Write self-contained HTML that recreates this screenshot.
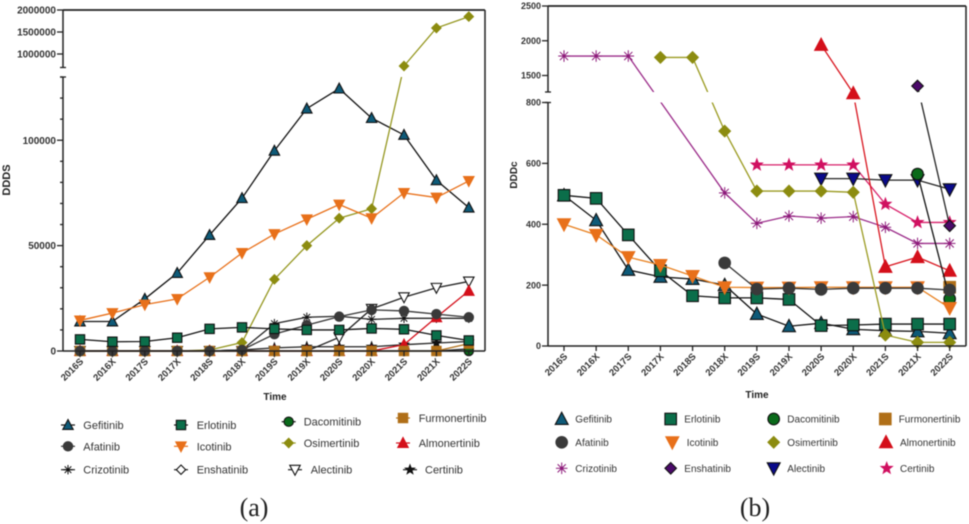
<!DOCTYPE html>
<html lang="en">
<head>
<meta charset="utf-8">
<title>DDDS and DDDc by drug</title>
<style>
html,body{margin:0;padding:0;background:#fff;width:969px;height:524px;overflow:hidden}
svg{display:block;position:absolute;left:0;top:0;filter:blur(0.45px)}
text{font-family:"Liberation Sans",sans-serif;fill:#333}
.lga{font-size:11px}
.lgb{font-size:10px}
.cap{font-family:"Liberation Serif",serif;font-size:26px;fill:#222;text-anchor:middle}
.ttl{font-weight:bold;fill:#222;text-anchor:middle}
</style>
</head>
<body>
<svg id="figure" width="969" height="524" viewBox="0 0 969 524" xmlns="http://www.w3.org/2000/svg">
  <defs>
    <clipPath id="clip-a"><rect x="0" y="0" width="969" height="67.5"/><rect x="0" y="77" width="969" height="447"/></clipPath>
    <clipPath id="clip-b"><rect x="0" y="0" width="969" height="92"/><rect x="0" y="102.5" width="969" height="421.5"/></clipPath>
  </defs>
  <g id="panel-a"></g>
  <g id="panel-b"></g>
  <g id="legend-marks"></g>

  <text class="ttl" font-size="11" transform="rotate(-90 10 180)" x="10" y="180">DDDS</text>
  <text class="ttl" font-size="10" x="275" y="400">Time</text>
  <text class="ttl" font-size="10" transform="rotate(-90 517 175)" x="517" y="175">DDDc</text>
  <text class="ttl" font-size="10" x="757" y="398">Time</text>

  <g>
    <text class="lga" x="83.3" y="429">Gefitinib</text>
    <text class="lga" x="196.7" y="429">Erlotinib</text>
    <text class="lga" x="303.7" y="425.7">Dacomitinib</text>
    <text class="lga" x="418.7" y="422">Furmonertinib</text>
    <text class="lga" x="83.3" y="450.3">Afatinib</text>
    <text class="lga" x="196.7" y="450.3">Icotinib</text>
    <text class="lga" x="303.7" y="447">Osimertinib</text>
    <text class="lga" x="418.7" y="447">Almonertinib</text>
    <text class="lga" x="83.3" y="473.7">Crizotinib</text>
    <text class="lga" x="196.7" y="473.7">Enshatinib</text>
    <text class="lga" x="310.7" y="473.7">Alectinib</text>
    <text class="lga" x="425" y="473.7">Certinib</text>
  </g>
  <g>
    <text class="lgb" x="575.3" y="422.6">Gefitinib</text>
    <text class="lgb" x="684.3" y="422.6">Erlotinib</text>
    <text class="lgb" x="787.3" y="422.6">Dacomitinib</text>
    <text class="lgb" x="898.7" y="422.6">Furmonertinib</text>
    <text class="lgb" x="575.3" y="445.9">Afatinib</text>
    <text class="lgb" x="686.7" y="445.9">Icotinib</text>
    <text class="lgb" x="787.3" y="445.9">Osimertinib</text>
    <text class="lgb" x="900" y="445.9">Almonertinib</text>
    <text class="lgb" x="575.3" y="471.9">Crizotinib</text>
    <text class="lgb" x="684.3" y="471.9">Enshatinib</text>
    <text class="lgb" x="787.3" y="471.9">Alectinib</text>
    <text class="lgb" x="900" y="471.9">Certinib</text>
  </g>

  <text class="cap" x="254" y="516">(a)</text>
  <text class="cap" x="755" y="516">(b)</text>
</svg>

<script>
// ---- shared categories ----
const timeCategories = ['2016S','2016X','2017S','2017X','2018S','2018X','2019S','2019X','2020S','2020X','2021S','2021X','2022S'];

// ---- panel (a) DDDS values ----
const aGefitinib     = [14000,14000,24700,37000,55000,72500,95000,115000,124500,110500,102500,81000,68000];
const aErlotinib     = [5500,4400,4500,6300,10500,11200,10500,10000,10000,10700,10300,7400,5000];
const aDacomitinib   = [0,0,0,0,0,0,0,0,0,0,0,0,0];
const aFurmonertinib = [0,0,0,0,0,0,0,0,0,0,0,0,3500];
const aAfatinib      = [0,0,0,0,0,500,8000,12300,16300,19500,19000,17500,16000];
const aIcotinib      = [14500,18000,22000,24700,35000,46500,55500,62500,69500,63000,75000,72800,80700];
const aOsimertinib   = [0,0,0,0,500,4000,34000,50000,63000,67500,727000,1590000,1850000];
const aAlmonertinib  = [0,0,0,0,0,0,0,0,0,0,3000,16000,28500];
const aCrizotinib    = [0,0,0,0,0,500,13000,16000,16500,15000,15500,15500,15500];
const aEnshatinib    = [0,0,0,0,0,0,0,0,0,0,0,0,1000];
const aAlectinib     = [0,0,0,0,0,0,0,0,6500,20000,25500,30000,33000];
const aCertinib      = [0,0,0,0,0,500,1500,2000,2000,2000,3000,3800,4500];

// ---- panel (a) ticks ----
const aMajorTicks = [0,50000,100000,1000000,1500000,2000000];
const aMinorTicks = [10000,20000,30000,40000,60000,70000,80000,90000,110000,120000,130000];

// ---- panel (b) DDDc values ----
const bGefitinib     = [495,413,250,227,220,200,105,65,75,55,50,48,42];
const bErlotinib     = [495,485,365,247,165,158,158,153,67,69,72,72,72];
const bDacomitinib   = [null,null,null,null,null,null,null,null,null,null,null,565,155];
const bFurmonertinib = [null,null,null,null,null,null,null,null,null,null,null,null,193];
const bAfatinib      = [null,null,null,null,null,273,187,190,186,190,190,190,184];
const bIcotinib      = [400,365,292,266,230,193,192,192,193,193,193,193,125];
const bOsimertinib   = [null,null,null,1760,1760,706,509,509,509,505,36,12,12];
const bAlmonertinib  = [null,null,null,null,null,null,null,null,1940,1244,260,292,247];
const bCrizotinib    = [1780,1780,1780,null,null,503,403,427,420,425,390,337,337];
const bEnshatinib    = [null,null,null,null,null,null,null,null,null,null,null,1349,395];
const bAlectinib     = [null,null,null,null,null,null,null,null,550,550,545,545,515];
const bCertinib      = [null,null,null,null,null,null,595,595,595,595,466,406,406];

// ---- panel (b) ticks ----
const bMajorTicks = [0,200,400,600,800,1500,2000,2500];

const NS = 'http://www.w3.org/2000/svg';

// Piecewise axis functions
function aX(i){ return 80 + 32.4 * i; }
function bX(i){ return 564 + 32.14 * i; }
function aY(v){
  if (v <= 130000) return 351 - (v / 130000) * 274;
  return 54 - (v - 1000000) * (44 / 1000000);
}
function bY(v){
  if (v <= 800) return 346 - (v / 800) * 243.5;
  return 75.5 - (v - 1500) * 0.0695;
}
function mk(parent, tag, attrs){
  const el = document.createElementNS(NS, tag);
  for (const k in attrs) el.setAttribute(k, attrs[k]);
  parent.appendChild(el);
  return el;
}
function starPoints(x, y, r){
  const p = [];
  for (let i = 0; i < 10; i++){
    const rr = i % 2 === 0 ? r : r * 0.42;
    const t = -Math.PI / 2 + i * Math.PI / 5;
    p.push((x + rr * Math.cos(t)).toFixed(2) + ',' + (y + rr * Math.sin(t)).toFixed(2));
  }
  return p.join(' ');
}
function drawMarker(parent, shape, x, y, s, fill, stroke, name){
  const g = mk(parent, 'g', {});
  
  
  const st = {fill: fill, stroke: stroke, 'stroke-width': 1.1, 'stroke-linejoin': 'miter'};
  if (shape === 'up') mk(g, 'polygon', Object.assign({points: x+','+(y-s*1.0)+' '+(x+s*0.95)+','+(y+s*0.8)+' '+(x-s*0.95)+','+(y+s*0.8)}, st));
  else if (shape === 'down') mk(g, 'polygon', Object.assign({points: x+','+(y+s*1.0)+' '+(x+s*0.95)+','+(y-s*0.8)+' '+(x-s*0.95)+','+(y-s*0.8)}, st));
  else if (shape === 'square') mk(g, 'rect', Object.assign({x: x-s*0.85, y: y-s*0.85, width: s*1.7, height: s*1.7}, st));
  else if (shape === 'circle') mk(g, 'circle', Object.assign({cx: x, cy: y, r: s*0.85}, st));
  else if (shape === 'diamond') mk(g, 'polygon', Object.assign({points: x+','+(y-s*0.85)+' '+(x+s*0.85)+','+y+' '+x+','+(y+s*0.85)+' '+(x-s*0.85)+','+y}, st));
  else if (shape === 'star') mk(g, 'polygon', Object.assign({points: starPoints(x, y, s*0.85)}, st));
  else if (shape === 'aster'){
    const r = s * 0.85;
    for (let i = 0; i < 4; i++){
      const t = i * Math.PI / 4;
      const dx = r * Math.cos(t), dy = r * Math.sin(t);
      mk(g, 'line', {x1: x-dx, y1: y-dy, x2: x+dx, y2: y+dy, stroke: fill, 'stroke-width': 1});
    }
    mk(g, 'circle', {cx: x, cy: y, r: r*0.3, fill: fill});
  }
}

const aSeries = [
  {key:'gefitinib', data:aGefitinib, shape:'up', fill:'#0e5a78', stroke:'#111', line:'#111'},
  {key:'crizotinib', data:aCrizotinib, shape:'aster', fill:'#111', stroke:'none', line:'#222'},
  {key:'certinib', data:aCertinib, shape:'star', fill:'#111', stroke:'#111', line:'#222'},
  {key:'alectinib', data:aAlectinib, shape:'down', fill:'#fff', stroke:'#111', line:'#222'},
  {key:'enshatinib', data:aEnshatinib, shape:'diamond', fill:'#fff', stroke:'#111', line:'#222'},
  {key:'osimertinib', data:aOsimertinib, shape:'diamond', fill:'#8c8c10', stroke:'#8c8c10', line:'#94961e'},
  {key:'icotinib', data:aIcotinib, shape:'down', fill:'#e8701a', stroke:'#e8701a', line:'#e8701a'},
  {key:'almonertinib', data:aAlmonertinib, shape:'up', fill:'#d40f1a', stroke:'#d40f1a', line:'#d40f1a'},
  {key:'dacomitinib', data:aDacomitinib, shape:'circle', fill:'#0a6a1a', stroke:'#111', line:'#111'},
  {key:'furmonertinib', data:aFurmonertinib, shape:'square', fill:'#b06f18', stroke:'#b06f18', line:'#b06f18'},
  {key:'afatinib', data:aAfatinib, shape:'circle', fill:'#3a3a3a', stroke:'#3a3a3a', line:'#333'},
  {key:'erlotinib', data:aErlotinib, shape:'square', fill:'#0b6e4a', stroke:'#111', line:'#111'}
];
const bSeries = [
  {key:'gefitinib', data:bGefitinib, shape:'up', fill:'#0e5a78', stroke:'#111', line:'#111'},
  {key:'erlotinib', data:bErlotinib, shape:'square', fill:'#0b6e4a', stroke:'#111', line:'#111'},
  {key:'crizotinib', data:bCrizotinib, shape:'aster', fill:'#8d1a7a', stroke:'none', line:'#9a2a88'},
  {key:'certinib', data:bCertinib, shape:'star', fill:'#d01060', stroke:'#d01060', line:'#d8206a'},
  {key:'alectinib', data:bAlectinib, shape:'down', fill:'#0a0a8a', stroke:'#111', line:'#222'},
  {key:'almonertinib', data:bAlmonertinib, shape:'up', fill:'#d40f1a', stroke:'#d40f1a', line:'#d8141e'},
  {key:'enshatinib', data:bEnshatinib, shape:'diamond', fill:'#4b0a6a', stroke:'#111', line:'#222'},
  {key:'furmonertinib', data:bFurmonertinib, shape:'square', fill:'#b06f18', stroke:'#b06f18', line:'#b06f18'},
  {key:'dacomitinib', data:bDacomitinib, shape:'circle', fill:'#0a6a1a', stroke:'#111', line:'#111'},
  {key:'icotinib', data:bIcotinib, shape:'down', fill:'#e8701a', stroke:'#e8701a', line:'#e8801f'},
  {key:'afatinib', data:bAfatinib, shape:'circle', fill:'#3a3a3a', stroke:'#3a3a3a', line:'#333'},
  {key:'osimertinib', data:bOsimertinib, shape:'diamond', fill:'#8c8c10', stroke:'#8c8c10', line:'#9a9a20'}
];

function drawSeries(root, panel, list, X, Y, size, clipId){
  list.forEach(function(s){
    const g = mk(root, 'g', {});
    
    
    // Empty categories are skipped, so the line runs straight across them
    let d = '';
    s.data.forEach(function(v, i){
      if (v === null) return;
      d += (d === '' ? 'M' : 'L') + X(i).toFixed(2) + ' ' + Y(v).toFixed(2);
    });
    const path = mk(g, 'path', {d: d, fill: 'none', stroke: s.line, 'stroke-width': 1.3, 'clip-path': 'url(#' + clipId + ')'});
    
    
    s.data.forEach(function(v, i){
      if (v === null) return;
      drawMarker(g, s.shape, X(i), Y(v), size, s.fill, s.stroke, panel + '-point-' + s.key + '-' + timeCategories[i]);
    });
  });
}

function drawAxes(root, panel, cfg){
  const g = mk(root, 'g', {stroke: '#222', fill: 'none'});
  
  
  // frame: top, right, bottom and the two left-axis pieces
  mk(g, 'line', {x1: cfg.left, y1: cfg.top, x2: cfg.right, y2: cfg.top, 'stroke-width': 1.7});
  mk(g, 'line', {x1: cfg.right, y1: cfg.top, x2: cfg.right, y2: cfg.bottom, 'stroke-width': 1.5});
  mk(g, 'line', {x1: cfg.left, y1: cfg.bottom, x2: cfg.right, y2: cfg.bottom, 'stroke-width': 1.5});
  mk(g, 'line', {x1: cfg.left, y1: cfg.top, x2: cfg.left, y2: cfg.breakTop, 'stroke-width': 1.5});
  mk(g, 'line', {x1: cfg.left, y1: cfg.breakBottom, x2: cfg.left, y2: cfg.bottom, 'stroke-width': 1.5});
  mk(g, 'line', {x1: cfg.left-3, y1: cfg.breakTop, x2: cfg.left+3, y2: cfg.breakTop, 'stroke-width': 1.3});
  mk(g, 'line', {x1: cfg.left-3, y1: cfg.breakBottom, x2: cfg.left+3, y2: cfg.breakBottom, 'stroke-width': 1.3});

  cfg.minor.forEach(function(v){
    mk(g, 'line', {x1: cfg.left-3, y1: cfg.Y(v), x2: cfg.left, y2: cfg.Y(v), 'stroke-width': 1.3});
  });
  cfg.major.forEach(function(v){
    mk(g, 'line', {x1: cfg.left-6, y1: cfg.Y(v), x2: cfg.left, y2: cfg.Y(v), 'stroke-width': 1.3});
    const t = mk(root, 'text', {x: cfg.left-7, y: cfg.Y(v) + cfg.font*0.36, 'text-anchor': 'end', 'font-size': cfg.font, 'font-weight': 'bold'});
    
    
    t.textContent = String(v);
  });
  timeCategories.forEach(function(c, i){
    const x = cfg.X(i);
    mk(g, 'line', {x1: x, y1: cfg.bottom, x2: x, y2: cfg.bottom+5, 'stroke-width': 1.3});
    const tx = x + 4, ty = cfg.bottom + 11;
    const t = mk(root, 'text', {x: tx, y: ty, 'text-anchor': 'end', 'font-size': 9.5, 'font-weight': 'bold', transform: 'rotate(-45 ' + tx + ' ' + ty + ')'});
    
    
    t.textContent = c;
  });
}

const panelA = document.getElementById('panel-a');
const panelB = document.getElementById('panel-b');
drawSeries(panelA, 'panel-a', aSeries, aX, aY, 5.5, 'clip-a');
drawAxes(panelA, 'panel-a', {left:63, right:485, top:10, bottom:351, breakTop:67.5, breakBottom:77, X:aX, Y:aY, major:aMajorTicks, minor:aMinorTicks, font:10});
drawSeries(panelB, 'panel-b', bSeries, bX, bY, 6.8, 'clip-b');
drawAxes(panelB, 'panel-b', {left:548, right:966, top:6, bottom:346, breakTop:92, breakBottom:102.5, X:bX, Y:bY, major:bMajorTicks, minor:[], font:9});

// ---- legend markers ----
const legendRoot = document.getElementById('legend-marks');
function legendMark(list, key, x, y, size, stub, panel){
  const s = list.filter(function(e){ return e.key === key; })[0];
  if (stub) {
    const ln = mk(legendRoot, 'line', {x1: x-7, y1: y, x2: x+7, y2: y, stroke: s.line, 'stroke-width': 1.2});
    
    
  }
  drawMarker(legendRoot, s.shape, x, y, size, s.fill, s.stroke, panel + '-legend-marker-' + key);
}
legendMark(aSeries,'gefitinib',68,425,5.5,true,'panel-a');
legendMark(aSeries,'erlotinib',181,425,5.5,true,'panel-a');
legendMark(aSeries,'dacomitinib',288.7,421.7,5.5,true,'panel-a');
legendMark(aSeries,'furmonertinib',403,418,5.5,true,'panel-a');
legendMark(aSeries,'afatinib',68,446.3,5.5,true,'panel-a');
legendMark(aSeries,'icotinib',181,446.3,5.5,true,'panel-a');
legendMark(aSeries,'osimertinib',288.7,443,5.5,true,'panel-a');
legendMark(aSeries,'almonertinib',403,443,5.5,true,'panel-a');
legendMark(aSeries,'crizotinib',68,469.7,5.5,true,'panel-a');
legendMark(aSeries,'enshatinib',181,469.7,5.5,true,'panel-a');
legendMark(aSeries,'alectinib',295,469.7,5.5,true,'panel-a');
legendMark(aSeries,'certinib',410,469.7,5.5,true,'panel-a');

legendMark(bSeries,'gefitinib',561.7,419,6.8,false,'panel-b');
legendMark(bSeries,'erlotinib',670.7,419,6.8,false,'panel-b');
legendMark(bSeries,'dacomitinib',773.7,419,6.8,false,'panel-b');
legendMark(bSeries,'furmonertinib',885.3,419,6.8,false,'panel-b');
legendMark(bSeries,'afatinib',561.7,442.3,6.8,false,'panel-b');
legendMark(bSeries,'icotinib',672.3,442.3,6.8,false,'panel-b');
legendMark(bSeries,'osimertinib',773.7,442.3,6.8,false,'panel-b');
legendMark(bSeries,'almonertinib',886,442.3,6.8,false,'panel-b');
legendMark(bSeries,'crizotinib',561.7,468.3,6.8,false,'panel-b');
legendMark(bSeries,'enshatinib',670.7,468.3,6.8,false,'panel-b');
legendMark(bSeries,'alectinib',773.7,468.3,6.8,false,'panel-b');
legendMark(bSeries,'certinib',886.7,468.3,6.8,false,'panel-b');
</script>
</body>
</html>
